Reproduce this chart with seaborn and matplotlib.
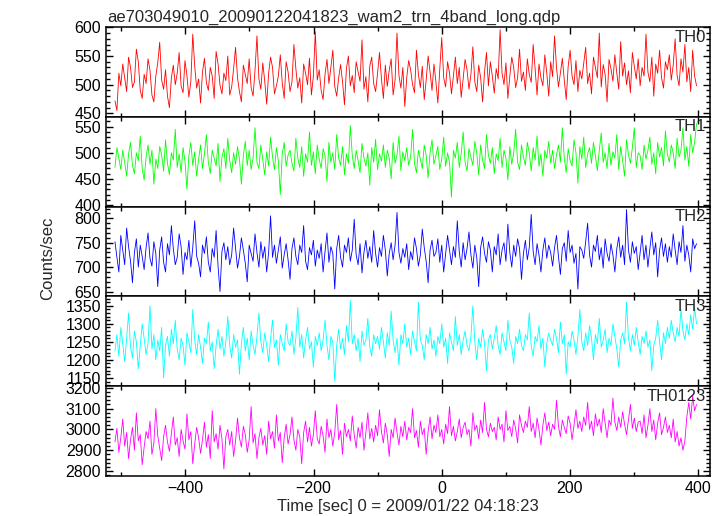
import numpy as np
import pandas as pd
import matplotlib
matplotlib.use("Agg")
import matplotlib.pyplot as plt
from matplotlib.ticker import MultipleLocator
import seaborn as sns

# light curve values (counts/sec)
th0 = [472, 455, 520, 498, 536, 512, 488, 548, 530, 495, 505, 562, 540, 490, 476,
       518, 502, 545, 525, 482, 470, 515, 538, 574, 508, 492, 526, 480, 460, 512,
       534, 500, 520, 556, 498, 486, 542, 516, 478, 505, 588, 532, 494, 510, 468,
       522, 546, 504, 490, 530, 515, 476, 558, 536, 499, 484, 520, 507, 550, 482,
       496, 528, 565, 512, 488, 470, 534, 518, 502, 545, 495, 480, 525, 585, 510,
       492, 538, 506, 466, 520, 548, 530, 484, 498, 515, 552, 503, 476, 540, 522,
       488, 505, 570, 528, 494, 512, 468, 536, 520, 500, 546, 482, 515, 592, 508,
       526, 490, 474, 518, 544, 502, 530, 560, 497, 480, 512, 535, 505, 465, 528,
       550, 498, 516, 486, 540, 522, 506, 578, 492, 514, 470, 532, 548, 502, 488,
       520, 556, 510, 476, 534, 497, 525, 545, 482, 508, 590, 516, 494, 530, 462,
       512, 542, 526, 500, 486, 560, 518, 495, 532, 474, 508, 550, 522, 490, 536,
       505, 468, 528, 582, 512, 496, 540, 520, 484, 515, 548, 502, 530, 478, 510,
       544, 526, 492, 518, 566, 505, 488, 534, 512, 470, 522, 556, 498, 540, 515,
       485, 528, 510, 596, 520, 500, 538, 476, 515, 548, 530, 495, 512, 562, 506,
       522, 490, 545, 518, 504, 570, 528, 482, 536, 512, 498, 552, 520, 480, 540,
       514, 585, 530, 496, 520, 546, 508, 474, 532, 560, 515, 500, 542, 488, 525,
       510, 538, 565, 502, 520, 484, 548, 530, 512, 590, 496, 535, 518, 470, 544,
       528, 506, 552, 520, 492, 575, 515, 538, 500, 524, 486, 556, 532, 510, 545,
       498, 530, 515, 588, 522, 505, 548, 480, 536, 520, 560, 512, 494, 540, 526,
       552, 508, 534, 580, 516, 498, 545, 522, 570, 505, 530, 488, 560, 515, 498]
th1 = [472, 510, 490, 468, 505, 482, 455, 498, 520, 476, 460, 500, 485, 532, 470,
       448, 492, 515, 478, 505, 440, 488, 470, 512, 496, 465, 525, 480, 458, 500,
       486, 545, 472, 498, 462, 510, 484, 430, 495, 520, 476, 502, 455, 488, 515,
       470, 498, 535, 482, 460, 505, 490, 475, 518, 445, 492, 508, 470, 528, 485,
       462, 500, 478, 512, 488, 440, 495, 522, 476, 505, 468, 490, 548, 482, 470,
       515, 486, 458, 502, 475, 530, 492, 468, 510, 485, 420, 498, 520, 474, 496,
       505, 480, 465, 528, 490, 472, 512, 455, 498, 482, 540, 476, 502, 460, 515,
       488, 470, 508, 495, 445, 520, 482, 500, 468, 535, 490, 476, 512, 458, 498,
       480, 552, 495, 470, 505, 485, 462, 518, 490, 475, 500, 438, 510, 482, 526,
       468, 498, 484, 515, 472, 505, 490, 450, 520, 480, 495, 532, 466, 502, 485,
       510, 476, 492, 545, 480, 462, 505, 488, 470, 515, 495, 452, 500, 525, 478,
       495, 512, 468, 488, 530, 474, 500, 482, 415, 505, 490, 520, 472, 498, 540,
       482, 465, 508, 492, 476, 522, 500, 458, 515, 486, 470, 535, 495, 480, 510,
       460, 498, 485, 528, 472, 505, 490, 448, 512, 478, 500, 545, 482, 468, 515,
       492, 476, 520, 500, 465, 510, 486, 532, 474, 498, 455, 505, 490, 522, 480,
       505, 470, 496, 515, 482, 548, 490, 462, 508, 485, 475, 525, 500, 442, 512,
       488, 530, 472, 498, 510, 480, 520, 494, 466, 505, 538, 482, 500, 470, 518,
       476, 502, 490, 535, 468, 512, 485, 455, 525, 496, 480, 510, 548, 472, 500,
       495, 468, 515, 488, 505, 530, 478, 500, 460, 520, 492, 510, 475, 542, 498,
       482, 515, 500, 470, 528, 492, 505, 548, 486, 512, 474, 535, 500, 520, 556]
th2 = [752, 720, 690, 765, 735, 705, 780, 742, 712, 668, 730, 758, 700, 745, 722,
       695, 740, 770, 718, 702, 752, 728, 660, 735, 762, 710, 690, 748, 725, 785,
       738, 705, 720, 768, 742, 685, 730, 715, 755, 700, 740, 795, 722, 708, 680,
       745, 728, 762, 710, 690, 738, 720, 775, 702, 650, 732, 750, 715, 742, 705,
       725, 780, 740, 698, 722, 760, 735, 708, 670, 745, 728, 712, 768, 730, 700,
       752, 718, 742, 690, 730, 805, 720, 745, 708, 735, 762, 698, 725, 748, 715,
       675, 738, 760, 722, 705, 745, 730, 785, 712, 695, 740, 725, 755, 702, 735,
       718, 748, 690, 732, 770, 710, 742, 728, 655, 738, 765, 720, 700, 745, 730,
       760, 712, 735, 798, 725, 705, 748, 688, 730, 755, 718, 742, 710, 775, 728,
       700, 740, 722, 765, 735, 682, 728, 750, 715, 745, 812, 730, 708, 738, 720,
       748, 695, 732, 715, 760, 738, 702, 725, 778, 740, 712, 668, 735, 755, 722,
       730, 758, 710, 745, 690, 728, 765, 735, 705, 742, 720, 795, 732, 700, 750,
       715, 738, 772, 725, 698, 745, 720, 660, 740, 762, 728, 710, 752, 735, 690,
       742, 725, 768, 705, 735, 750, 712, 788, 730, 700, 745, 722, 758, 738, 675,
       728, 755, 715, 740, 808, 732, 705, 748, 725, 690, 735, 760, 718, 745, 730,
       702, 740, 765, 722, 685, 738, 750, 712, 775, 730, 745, 708, 728, 655, 742,
       735, 718, 752, 790, 725, 700, 745, 732, 765, 715, 740, 698, 758, 728, 712,
       748, 725, 690, 738, 762, 720, 745, 705, 818, 735, 710, 752, 728, 742, 695,
       730, 765, 715, 745, 700, 738, 772, 725, 750, 680, 735, 760, 722, 748, 710,
       742, 720, 768, 735, 705, 752, 730, 785, 712, 745, 725, 690, 758, 738, 748]
th3 = [1225, 1270, 1210, 1290, 1245, 1195, 1260, 1330, 1235, 1205, 1280, 1250, 1175, 1240, 1300,
       1260, 1215, 1245, 1350, 1230, 1270, 1200, 1255, 1225, 1290, 1150, 1240, 1265, 1210, 1285,
       1245, 1310, 1230, 1200, 1260, 1240, 1185, 1275, 1250, 1220, 1340, 1255, 1215, 1270, 1235,
       1190, 1260, 1245, 1305, 1225, 1250, 1175, 1240, 1285, 1230, 1265, 1210, 1250, 1320, 1240,
       1205, 1270, 1235, 1255, 1160, 1245, 1290, 1225, 1260, 1200, 1280, 1240, 1215, 1265, 1330,
       1250, 1220, 1275, 1240, 1195, 1260, 1310, 1235, 1255, 1185, 1270, 1245, 1225, 1300, 1250,
       1240, 1280, 1215, 1260, 1345, 1235, 1270, 1205, 1255, 1290, 1230, 1250, 1180, 1265, 1240,
       1275, 1225, 1255, 1310, 1240, 1200, 1265, 1250, 1140, 1240, 1285, 1230, 1260, 1215, 1295,
       1250, 1365, 1245, 1270, 1225, 1260, 1195, 1280, 1240, 1255, 1315, 1235, 1210, 1270, 1245,
       1265, 1230, 1290, 1250, 1205, 1275, 1240, 1335, 1255, 1220, 1260, 1185, 1270, 1245, 1300,
       1235, 1260, 1215, 1280, 1250, 1225, 1360, 1255, 1240, 1200, 1270, 1245, 1290, 1230, 1255,
       1210, 1265, 1245, 1300, 1235, 1260, 1190, 1275, 1250, 1225, 1320, 1240, 1270, 1215, 1255,
       1280, 1240, 1225, 1265, 1350, 1250, 1200, 1260, 1235, 1285, 1245, 1170, 1255, 1270, 1230,
       1260, 1295, 1240, 1215, 1275, 1250, 1225, 1310, 1255, 1235, 1190, 1265, 1245, 1285, 1240,
       1225, 1270, 1255, 1330, 1240, 1210, 1265, 1250, 1295, 1230, 1260, 1180, 1245, 1275, 1255,
       1240, 1285, 1260, 1220, 1305, 1245, 1270, 1160, 1250, 1235, 1280, 1255, 1215, 1265, 1340,
       1250, 1225, 1275, 1240, 1295, 1260, 1200, 1270, 1245, 1315, 1235, 1255, 1285, 1220, 1260,
       1240, 1300, 1265, 1230, 1180, 1255, 1275, 1245, 1360, 1260, 1225, 1270, 1240, 1290, 1250,
       1215, 1265, 1245, 1280, 1235, 1255, 1170, 1240, 1260, 1310, 1250, 1200, 1275, 1245, 1290,
       1260, 1310, 1275, 1250, 1290, 1265, 1340, 1280, 1255, 1300, 1270, 1325, 1285, 1345, 1300]
th0123 = [2940, 3005, 2890, 2960, 3050, 2920, 2985, 2860, 2950, 3010, 2900, 3080, 2945, 2975, 2830,
          2915, 2990, 2955, 3040, 2880, 2935, 3100, 2970, 2910, 2850, 2965, 3020, 2940, 2895, 2980,
          3060, 2925, 2960, 2870, 3000, 2945, 2905, 3075, 2950, 2990, 2835, 2930, 3010, 2960, 2885,
          2950, 3035, 2915, 2975, 2860, 3090, 2940, 2980, 2905, 3020, 2955, 2810, 2965, 3000, 2925,
          2990, 2870, 2945, 3055, 2960, 2915, 3015, 2975, 2890, 2950, 3110, 2935, 2980, 2860, 2960,
          3005, 2925, 2970, 2880, 3040, 2955, 2990, 2910, 3070, 2945, 2985, 2840, 2960, 3025, 2930,
          2975, 3060, 2950, 2900, 3000, 2965, 2835, 2985, 3040, 2940, 3010, 2920, 2975, 3090, 2955,
          2930, 3015, 2970, 2890, 3050, 2960, 3000, 2920, 2985, 3120, 2950, 2995, 2880, 3030, 2965,
          3000, 2945, 3065, 2975, 2910, 3010, 2960, 3035, 2900, 2985, 3080, 2955, 3005, 2940, 3020,
          2970, 3095, 2990, 2935, 3030, 2975, 2870, 3000, 2960, 3055, 2985, 2925, 3015, 2965, 3040,
          2950, 3010, 2985, 3100, 2960, 2995, 2915, 3040, 2975, 3005, 2880, 2990, 3060, 2955, 3020,
          2985, 3070, 2965, 3000, 2930, 3025, 2980, 3110, 2970, 3015, 2945, 2990, 3050, 2960, 3010,
          3035, 2975, 3000, 2920, 3080, 2995, 3020, 2955, 3045, 2985, 3130, 3000, 2965, 3030, 2990,
          3010, 2950, 3060, 3000, 3025, 2940, 3090, 2995, 3015, 2965, 3045, 3005, 2935, 3070, 3020,
          2985, 3040, 3010, 3110, 2990, 3030, 2960, 3055, 3000, 2925, 3020, 3080, 2995, 3035, 2970,
          3025, 3000, 3140, 3015, 2965, 3045, 3010, 2980, 3065, 3030, 2950, 3020, 3095, 3005, 3040,
          2990, 3060, 3020, 3130, 3000, 3040, 2970, 3075, 3015, 3050, 2985, 3100, 3030, 2960, 3045,
          3020, 3150, 3035, 2995, 3060, 3010, 3085, 3025, 2975, 3045, 3120, 3005, 3055, 2990, 3035,
          3040, 2980, 3070, 2960, 3020, 3100, 2990, 3045, 2950, 3030, 3080, 2975, 3010, 3060, 2985,
          3020, 2960, 3050, 2940, 2990, 2920, 2960, 2900, 2945, 3060, 3130, 3050, 3160, 3090, 3120]

labels = ["TH0", "TH1", "TH2", "TH3", "TH0123"]
colors = ["#ff0000", "#00ff00", "#0000ff", "#00ffff", "#ff00ff"]
series = [th0, th1, th2, th3, th0123]
ylims = [(444, 600.5), (397, 569), (640, 824), (1127, 1376), (2776, 3208)]
ysteps = [(50, 10), (50, 10), (50, 10), (50, 10), (100, 20)]

# time bins from -510 s to ~398 s
time = np.linspace(-510, 398, len(th0))

sns.set_style("ticks")
plt.rcParams["font.family"] = ["Liberation Sans", "DejaVu Sans"]

fig, axes = plt.subplots(5, 1, figsize=(7.23, 5.16), dpi=100, sharex=True)
fig.subplots_adjust(left=106/723, right=710/723, top=1-27/516, bottom=1-476/516, hspace=0)

for ax, lab, col, vals, yl, (maj, mnr) in zip(axes, labels, colors, series, ylims, ysteps):
    df = pd.DataFrame({"t": time, "v": vals})
    sns.lineplot(data=df, x="t", y="v", ax=ax, color=col, linewidth=0.6)
    ax.set_ylim(*yl)
    ax.set_xlim(-524, 419)
    ax.yaxis.set_major_locator(MultipleLocator(maj))
    ax.yaxis.set_minor_locator(MultipleLocator(mnr))
    ax.xaxis.set_major_locator(MultipleLocator(200))
    ax.xaxis.set_minor_locator(MultipleLocator(100))
    ax.tick_params(which="both", direction="in", top=True, right=True,
                   labelsize=11.5, colors="black", width=1)
    ax.tick_params(which="major", length=5)
    ax.tick_params(which="minor", length=3)
    ax.set_xlabel("")
    ax.set_ylabel("")
    for s in ax.spines.values():
        s.set_linewidth(1.1)
        s.set_color("black")
    ax.text(0.993, 0.97, lab, transform=ax.transAxes, ha="right", va="top", fontsize=12)

axes[-1].set_xlabel("Time [sec] 0 = 2009/01/22 04:18:23", fontsize=12, labelpad=2)
fig.text(48/723, 0.5, "Counts/sec", rotation=90, ha="center", va="center", fontsize=12)
fig.text(107/723, 1-22/516, "ae703049010_20090122041823_wam2_trn_4band_long.qdp",
         ha="left", va="baseline", fontsize=12)

fig.savefig("out.png", dpi=100)
